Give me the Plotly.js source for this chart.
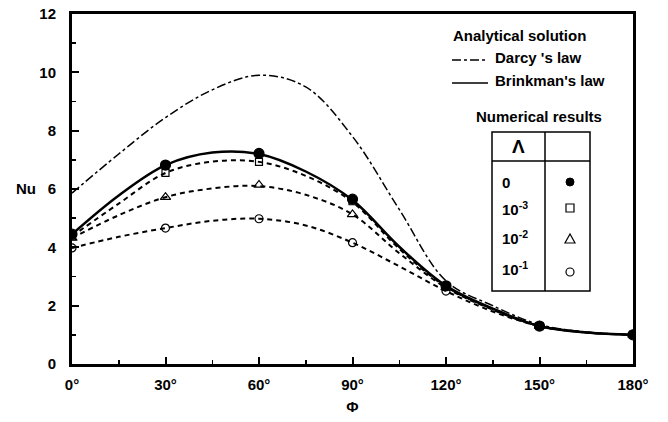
<!DOCTYPE html>
<html>
<head>
<meta charset="utf-8">
<script src="https://cdn.plot.ly/plotly-3.0.1.min.js"></script>
<style>html,body{margin:0;padding:0;background:#fff;}#chart{width:668px;height:422px;}</style>
</head>
<body>
<div id="chart"></div>
<script>
// ---- data ----
const phiCurve = [0, 15, 30, 45, 60, 75, 90, 105, 120, 135, 150, 165, 180];
const darcyNu = [5.86, 7.2, 8.45, 9.4, 9.9, 9.5, 7.8, 5.3, 2.85, 2.0, 1.35, 1.1, 1.0];
const brinkmanNu = [4.45, 5.78, 6.82, 7.25, 7.2, 6.6, 5.62, 4.02, 2.68, 1.9, 1.3, 1.08, 1.0];
const lam1e3Curve = [4.38, 5.5, 6.55, 6.94, 6.93, 6.45, 5.55, 3.95, 2.65, 1.88, 1.3, 1.08, 1.0];
const lam1e2Curve = [4.32, 5.1, 5.72, 6.02, 6.1, 5.8, 5.13, 3.8, 2.62, 1.86, 1.3, 1.08, 1.0];
const lam1e1Curve = [3.98, 4.36, 4.66, 4.91, 4.98, 4.75, 4.16, 3.35, 2.5, 1.8, 1.3, 1.08, 1.0];

const phiPts = [0, 30, 60, 90, 120, 150, 180];
const lam0Pts = [4.45, 6.82, 7.22, 5.65, 2.68, 1.3, 1.0];
const lam1e3Pts = [4.38, 6.55, 6.93, 5.58, 2.66, 1.3, 1.0];
const lam1e2Pts = [4.32, 5.72, 6.14, 5.13, 2.63, 1.3, 1.0];
const lam1e1Pts = [3.98, 4.66, 4.98, 4.16, 2.5, 1.3, 1.0];

const xTickVals = [0, 30, 60, 90, 120, 150, 180];
const xTickText = ['0°', '30°', '60°', '90°', '120°', '150°', '180°'];
const yTickVals = [0, 2, 4, 6, 8, 10, 12];

const legendLambda = ['0', '10<sup>-3</sup>', '10<sup>-2</sup>', '10<sup>-1</sup>'];

// ---- plot ----
const F = 'Liberation Sans, Arial, sans-serif';
const b = t => '<b>' + t + '</b>';
const curveLine = (y, dash, w) => ({
  x: phiCurve, y: y, mode: 'lines', type: 'scatter', hoverinfo: 'skip',
  line: {color: '#000', width: w, dash: dash, shape: 'spline', smoothing: 1}
});
const pts = (y, sym, size) => ({
  x: phiPts, y: y, mode: 'markers', type: 'scatter',
  marker: {symbol: sym, size: size, color: '#000', line: {color: '#000', width: 1.2}}
});

const data = [
  curveLine(darcyNu, 'dashdot', 1.5),
  curveLine(lam1e1Curve, '5px,4px', 2),
  curveLine(lam1e2Curve, '5px,4px', 2),
  curveLine(lam1e3Curve, '5px,4px', 2),
  curveLine(brinkmanNu, 'solid', 2.5),
  pts(lam1e1Pts, 'circle-open', 8),
  pts(lam1e2Pts, 'triangle-up-open', 9),
  pts(lam1e3Pts, 'square-open', 7),
  pts(lam0Pts, 'circle', 10)
];

const px = v => (v - 72) / 561;
const py = v => (364 - v) / 350;
const P = (x, y) => px(x) + ',' + py(y);

const shapes = [
  {type: 'line', xref: 'paper', yref: 'paper', x0: px(452), x1: px(486), y0: py(60), y1: py(60), line: {color: '#000', width: 1.5, dash: 'dashdot'}},
  {type: 'line', xref: 'paper', yref: 'paper', x0: px(452), x1: px(488), y0: py(83), y1: py(83), line: {color: '#000', width: 1.5}},
  {type: 'rect', xref: 'paper', yref: 'paper', x0: px(492), x1: px(590), y0: py(291), y1: py(132), line: {color: '#000', width: 1.5}},
  {type: 'line', xref: 'paper', yref: 'paper', x0: px(492), x1: px(590), y0: py(161), y1: py(161), line: {color: '#000', width: 1.5}},
  {type: 'line', xref: 'paper', yref: 'paper', x0: px(545), x1: px(545), y0: py(132), y1: py(291), line: {color: '#000', width: 1.5}},
  // legend symbols
  {type: 'circle', xref: 'paper', yref: 'paper', x0: px(566), x1: px(574), y0: py(186), y1: py(178), fillcolor: '#000', line: {color: '#000', width: 1}},
  {type: 'rect', xref: 'paper', yref: 'paper', x0: px(566), x1: px(574), y0: py(212), y1: py(204), line: {color: '#000', width: 1.2}},
  {type: 'path', xref: 'paper', yref: 'paper', path: 'M' + P(565, 243) + ' L' + P(575, 243) + ' L' + P(570, 234) + ' Z', line: {color: '#000', width: 1.2}},
  {type: 'circle', xref: 'paper', yref: 'paper', x0: px(566), x1: px(574), y0: py(276), y1: py(268), line: {color: '#000', width: 1.2}}
];

const bold = {family: F, size: 15, color: '#000'};
const annotations = [
  {xref: 'paper', yref: 'paper', x: px(451), y: py(35), xanchor: 'left', yanchor: 'middle', text: b('Analytical solution'), showarrow: false, font: bold},
  {xref: 'paper', yref: 'paper', x: px(493), y: py(57), xanchor: 'left', yanchor: 'middle', text: b("Darcy 's law"), showarrow: false, font: bold},
  {xref: 'paper', yref: 'paper', x: px(493), y: py(81), xanchor: 'left', yanchor: 'middle', text: b("Brinkman's law"), showarrow: false, font: bold},
  {xref: 'paper', yref: 'paper', x: px(539), y: py(117), xanchor: 'center', yanchor: 'middle', text: b('Numerical results'), showarrow: false, font: bold},
  {xref: 'paper', yref: 'paper', x: px(518), y: py(146), xanchor: 'center', yanchor: 'middle', text: b('Λ'), showarrow: false, font: {family: F, size: 19, color: '#000'}},
  {xref: 'paper', yref: 'paper', x: px(26), y: py(188), xanchor: 'center', yanchor: 'middle', text: b('Nu'), showarrow: false, font: {family: F, size: 15, color: '#000'}}
];
const rowY = [182, 208, 237, 268];
legendLambda.forEach((t, i) => {
  annotations.push({xref: 'paper', yref: 'paper', x: px(500), y: py(rowY[i]), xanchor: 'left', yanchor: 'middle', text: b(t), showarrow: false, font: {family: F, size: 15, color: '#000'}});
});

const layout = {
  width: 668, height: 422,
  margin: {l: 72, r: 35, t: 14, b: 58},
  paper_bgcolor: '#fff', plot_bgcolor: '#fff',
  showlegend: false,
  font: {family: F, color: '#000'},
  xaxis: {
    range: [0, 180], tickvals: xTickVals, ticktext: xTickText.map(b),
    ticks: 'inside', ticklen: 7, tickwidth: 2, tickcolor: '#000',
    minor: {dtick: 15, tick0: 0, ticks: 'inside', ticklen: 4, tickwidth: 1.5, tickcolor: '#000'},
    showline: true, linewidth: 3, linecolor: '#000', mirror: true,
    showgrid: false, zeroline: false, ticklabelstandoff: 5,
    tickfont: {family: F, size: 15, color: '#000'},
    title: {text: b('Φ'), font: {family: F, size: 15, color: '#000'}, standoff: 10}
  },
  yaxis: {
    range: [0, 12], tickvals: yTickVals, ticktext: yTickVals.map(v => b(String(v))),
    ticks: 'inside', ticklen: 7, tickwidth: 2, tickcolor: '#000',
    minor: {dtick: 1, tick0: 0, ticks: 'inside', ticklen: 4, tickwidth: 1.5, tickcolor: '#000'},
    showline: true, linewidth: 3, linecolor: '#000', mirror: true,
    showgrid: false, zeroline: false, ticklabelstandoff: 10,
    tickfont: {family: F, size: 15, color: '#000'}
  },
  shapes: shapes,
  annotations: annotations
};

Plotly.newPlot('chart', data, layout, {staticPlot: true, displayModeBar: false});
</script>
</body>
</html>
